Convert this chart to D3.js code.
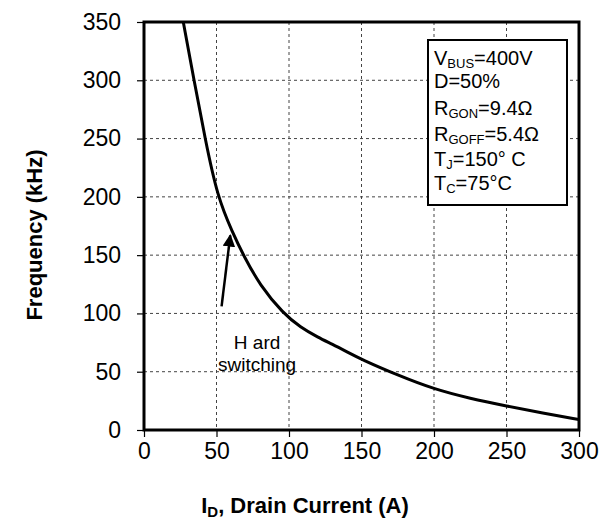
<!DOCTYPE html>
<html><head><meta charset="utf-8">
<script src="https://cdn.jsdelivr.net/npm/d3@7"></script>
<style>body{margin:0;background:#fff}svg{display:block}text{font-family:"Liberation Sans",Arial,sans-serif}</style>
</head><body>
<script>
const current = [27.1, 34.5, 42.1, 50.6, 61.2, 68.5, 80, 96, 108, 120, 130, 140, 150, 175, 200, 225, 250, 275, 300];
const freq    = [350, 300, 250, 200, 169, 150, 124, 100, 88, 79.5, 73.5, 67, 60.5, 47, 35, 27, 20.6, 14.5, 9];
const xTicks = [0, 50, 100, 150, 200, 250, 300];
const yTicks = [0, 50, 100, 150, 200, 250, 300, 350];
const legendLines = [["V","BUS","=400V"],["D=50%","",""],["R","GON","=9.4Ω"],["R","GOFF","=5.4Ω"],["T","J","=150° C"],["T","C","=75°C"]];
const annotation = ["H ard","switching"];

const W = 601, H = 521;
const svg = d3.select("body").append("svg").attr("width", W).attr("height", H);
const x = d3.scaleLinear().domain([0,300]).range([144,579]);
const y = d3.scaleLinear().domain([0,350]).range([430,22]);

// grid
const g = svg.append("g");
g.selectAll(".vg").data(xTicks.slice(1,-1)).enter().append("line")
 .attr("x1",d=>x(d)).attr("x2",d=>x(d)).attr("y1",y(350)).attr("y2",y(0))
 .attr("stroke","#444").attr("stroke-width",1).attr("stroke-dasharray","3,3");
g.selectAll(".hg").data(yTicks.slice(1,-1)).enter().append("line")
 .attr("y1",d=>y(d)).attr("y2",d=>y(d)).attr("x1",x(0)).attr("x2",x(300))
 .attr("stroke","#444").attr("stroke-width",1).attr("stroke-dasharray","3,3");

// axes
const xa = svg.append("g").attr("transform",`translate(0,${y(0)})`)
 .call(d3.axisBottom(x).tickValues(xTicks).tickSize(7).tickPadding(6));
const ya = svg.append("g").attr("transform",`translate(${x(0)},0)`)
 .call(d3.axisLeft(y).tickValues(yTicks).tickSize(7).tickPadding(16));
[xa,ya].forEach(a=>{
  a.select(".domain").remove();
  a.selectAll("line").attr("stroke","#000").attr("stroke-width",1.2);
  a.selectAll("text").attr("font-size",23).attr("fill","#000").attr("font-family","Liberation Sans, Arial, sans-serif");
});
xa.selectAll("text").attr("dy","0.71em");

// clip
svg.append("clipPath").attr("id","clip").append("rect")
 .attr("x",x(0)).attr("y",y(350)).attr("width",x(300)-x(0)).attr("height",y(0)-y(350));

const pts = current.map((c,i)=>[c,freq[i]]);
svg.append("path").datum(pts).attr("clip-path","url(#clip)")
 .attr("d", d3.line().x(d=>x(d[0])).y(d=>y(d[1])).curve(d3.curveBasis))
 .attr("fill","none").attr("stroke","#000").attr("stroke-width",3);

// frame
svg.append("rect").attr("x",x(0)).attr("y",y(350)).attr("width",x(300)-x(0)).attr("height",y(0)-y(350))
 .attr("fill","none").attr("stroke","#000").attr("stroke-width",3);

// legend box
const lg = svg.append("g");
lg.append("rect").attr("x",428).attr("y",40).attr("width",139).attr("height",165)
 .attr("fill","#fff").attr("stroke","#000").attr("stroke-width",2);
const baselines = [65, 88, 115, 141, 166, 190];
legendLines.forEach((l,i)=>{
  const t = lg.append("text").attr("x",434).attr("y",baselines[i]).attr("font-size",20).attr("fill","#000");
  t.append("tspan").text(l[0]);
  if (l[1]) {
    t.append("tspan").attr("font-size",13).attr("dy",3).text(l[1]);
    t.append("tspan").attr("dy",-3).text(l[2]);
  }
});

// annotation
svg.append("defs").append("marker").attr("id","ah").attr("viewBox","0 0 10 10")
 .attr("refX",9).attr("refY",5).attr("markerWidth",5).attr("markerHeight",5).attr("orient","auto")
 .append("path").attr("d","M0,0 L10,5 L0,10 Z").attr("fill","#000");
svg.append("line").attr("x1",x(53.5)).attr("y1",y(106)).attr("x2",x(59.5)).attr("y2",y(167))
 .attr("stroke","#000").attr("stroke-width",2.5).attr("marker-end","url(#ah)");
svg.append("text").attr("x",x(78)).attr("y",y(69.5)).attr("text-anchor","middle").attr("font-size",19).text(annotation[0]);
svg.append("text").attr("x",x(78)).attr("y",y(51)).attr("text-anchor","middle").attr("font-size",19).text(annotation[1]);

// axis titles
const xt = svg.append("text").attr("x",305).attr("y",513).attr("text-anchor","middle")
 .attr("font-size",22).attr("font-weight","bold");
xt.append("tspan").text("I");
xt.append("tspan").attr("font-size",15).attr("dy",4).text("D");
xt.append("tspan").attr("dy",-4).text(", Drain Current (A)");
svg.append("text").attr("transform","translate(42,235) rotate(-90)").attr("text-anchor","middle")
 .attr("font-size",22).attr("font-weight","bold").text("Frequency (kHz)");
</script>
</body></html>
